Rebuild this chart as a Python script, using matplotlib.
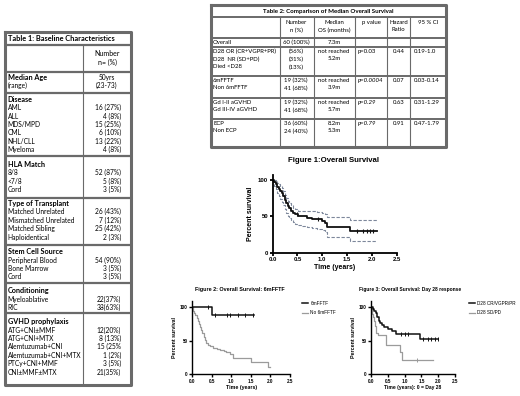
import numpy as np
import matplotlib
matplotlib.use('Agg')
import matplotlib.pyplot as plt

W, H = 520, 396

# ---------------- Table 1 data ----------------
t1_title = "Table 1: Baseline Characteristics"
t1_header = ["Number", "n= (%)"]
t1_sec_titles = ["Median Age", "Disease", "HLA Match", "Type of Transplant",
                 "Stem Cell Source", "Conditioning", "GVHD prophylaxis"]
t1_sec_items = [["(range)"],
                ["AML", "ALL", "MDS/MPD", "CML", "NHL/CLL", "Myeloma"],
                ["8/8", "<7/8", "Cord"],
                ["Matched Unrelated", "Mismatched Unrelated", "Matched Sibling", "Haploidentical"],
                ["Peripheral Blood", "Bone Marrow", "Cord"],
                ["Myeloablative", "RIC"],
                ["ATG+CNI\u00b1MMF", "ATG+CNI+MTX", "Alemtuzumab+CNI", "Alemtuzumab+CNI+MTX",
                 "PTCy+CNI+MMF", "CNI\u00b1MMF\u00b1MTX"]]
t1_sec_values = [["50yrs", "(23-73)"],
                 ["16 (27%)", "4 (8%)", "15 (25%)", "6 (10%)", "13 (22%)", "4 (8%)"],
                 ["52 (87%)", "5 (8%)", "3 (5%)"],
                 ["26 (43%)", "7 (12%)", "25 (42%)", "2 (3%)"],
                 ["54 (90%)", "3 (5%)", "3 (5%)"],
                 ["22(37%)", "38(63%)"],
                 ["12(20%)", "8 (13%)", "15 (25%", "1 (2%)", "3 (5%)", "21(35%)"]]

# ---------------- Table 2 data ----------------
t2_title = "Table 2: Comparison of Median Overall Survival"
t2_header = ["", "Number\nn (%)", "Median\nOS (months)", "p value", "Hazard\nRatio", "95 % CI"]
t2_rows = [
    ["Overall", "60 (100%)", "7.3m", "", "", ""],
    ["D28 OR (CR+VGPR+PR)\nD28  NR (SD+PD)\nDied <D28", "(56%)\n(31%)\n(13%)",
     "not reached\n5.2m", "p=0.03", "0.44", "0.19-1.0"],
    ["6mFFTF\nNon 6mFFTF", "19 (32%)\n41 (68%)", "not reached\n3.9m", "p=0.0004", "0.07", "0.03-0.14"],
    ["Gd I-II aGVHD\nGd III-IV aGVHD", "19 (32%)\n41 (68%)", "not reached\n5.7m", "p=0.29", "0.63", "0.31-1.29"],
    ["ECP\nNon ECP", "36 (60%)\n24 (40%)", "8.2m\n5.3m", "p=0.79", "0.91", "0.47-1.79"],
]

# ---------------- Figure 1: overall survival ----------------
f1_title = "Figure 1:Overall Survival"
os_t = [0, 0.03, 0.06, 0.09, 0.12, 0.15, 0.18, 0.21, 0.24, 0.27, 0.30, 0.33, 0.37,
        0.41, 0.46, 0.52, 0.60, 0.70, 0.80, 0.90, 1.00, 1.05, 1.10, 1.57, 2.10]
os_s = [100, 97, 94, 91, 88, 85, 82, 78, 73, 68, 64, 61, 58,
        55, 53, 51, 50, 48, 47, 46, 44, 41, 36, 30, 30]
os_hi = [100, 100, 98, 96, 94, 92, 89, 85, 80, 75, 71, 68, 65,
         62, 60, 58, 58, 58, 57, 56, 54, 53, 49.5, 45, 45]
os_lo = [100, 92, 87, 82, 78, 74, 70, 66, 60, 55, 51, 48, 45,
         42, 40, 38.5, 37, 35, 34, 33, 31, 29, 21, 16.5, 16.5]
os_cens = [0.50, 0.92, 1.70, 1.83, 1.91, 1.97, 2.03]

# ---------------- Figure 2: 6mFFTF ----------------
f2_title = "Figure 2: Overall Survival: 6mFFTF"
f2_labels = ["6mFFTF", "No 6mFFTF"]
ff_t = [0, 0.50, 1.58]
ff_s = [100, 88, 88]
ff_cens = [0.41, 0.58, 0.88, 0.96, 1.18, 1.35, 1.56]
nff_t = [0, 0.02, 0.05, 0.08, 0.11, 0.14, 0.17, 0.20, 0.23, 0.26, 0.29, 0.32, 0.36,
         0.40, 0.46, 0.53, 0.62, 0.70, 0.80, 0.87, 0.96, 1.03, 1.50, 1.94, 2.00]
nff_s = [100, 95, 92, 88, 84, 80, 75, 71, 66, 61, 56, 51, 47,
         44, 42, 40, 38, 36, 35, 34, 31, 24, 18, 11, 11]

# ---------------- Figure 3: Day 28 response ----------------
f3_title = "Figure 3: Overall Survival: Day 28 response"
f3_labels = ["D28 CR/VGPR/PR", "D28 SD/PD"]
cr_t = [0, 0.05, 0.10, 0.15, 0.19, 0.23, 0.27, 0.32, 0.40, 0.50, 0.62, 0.75, 1.46, 2.00]
cr_s = [100, 98, 95, 91, 86, 80, 76, 73, 70, 67, 64, 60, 52, 52]
cr_cens = [0.90, 1.00, 1.10, 1.55, 1.70, 1.80, 1.90, 2.00]
sd_t = [0, 0.02, 0.05, 0.08, 0.12, 0.16, 0.20, 0.46, 0.86, 0.93, 1.85]
sd_s = [100, 90, 85, 80, 72, 62, 58, 44, 34, 22, 22]
sd_cens = [1.36]

xticks = [0.0, 0.5, 1.0, 1.5, 2.0, 2.5]
yticks = [0, 50, 100]

TFONT = ['Lato', 'DejaVu Sans']
PFONT = ['Liberation Sans', 'DejaVu Sans']

fig = plt.figure(figsize=(W / 100, H / 100), dpi=100)
fig.patch.set_facecolor('white')
ov = fig.add_axes([0, 0, 1, 1])
ov.set_xlim(0, W)
ov.set_ylim(H, 0)
ov.axis('off')

BC = '#6a6a6a'

def hline(x0, x1, y, lw=1.0, c=BC):
    ov.plot([x0, x1], [y, y], color=c, lw=lw, solid_capstyle='butt')

def vline(x, y0, y1, lw=1.0, c=BC):
    ov.plot([x, x], [y0, y1], color=c, lw=lw, solid_capstyle='butt')

def box(x0, y0, x1, y1, lw=1.0, c=BC):
    ov.plot([x0, x1, x1, x0, x0], [y0, y0, y1, y1, y0], color=c, lw=lw)

# ---- Table 1 layout ----
T1x0, T1x1, T1xc = 5, 131, 83
T1y = [32, 45, 72, 93, 156, 198, 245, 283, 313, 385]
head_y = [77.3, 99.3, 164.3, 203.5, 251.7, 291.0, 321.7]
LS = 8.4
box(T1x0, T1y[0], T1x1, T1y[-1], lw=2.2)
for y in T1y[1:-1]:
    hline(T1x0, T1x1, y, lw=1.6)
vline(T1xc, T1y[1], T1y[-1], lw=0.8)
ov.text(T1x0 + 3, 38.8, t1_title, fontsize=5.3, fontweight='bold', family=TFONT,
        va='center', ha='left')
ov.text(107, 54, t1_header[0], fontsize=5, family=TFONT, va='center', ha='center')
ov.text(107, 62.5, t1_header[1], fontsize=5, family=TFONT, va='center', ha='center')
for i, (ttl, items, vals) in enumerate(zip(t1_sec_titles, t1_sec_items, t1_sec_values)):
    y = head_y[i]
    ov.text(T1x0 + 2.5, y, ttl, fontsize=5.2, fontweight='bold', family=TFONT,
            va='center', ha='left')
    for k, it in enumerate(items):
        ov.text(T1x0 + 2.5, y + LS * (k + 1), it, fontsize=4.8, family=TFONT,
                va='center', ha='left')
    if i == 0:
        ov.text(107, y, vals[0], fontsize=4.8, family=TFONT, va='center', ha='center')
        ov.text(107, y + LS, vals[1], fontsize=4.8, family=TFONT, va='center', ha='center')
    else:
        for k, v in enumerate(vals):
            ov.text(121, y + LS * (k + 1), v, fontsize=4.8, family=TFONT,
                    va='center', ha='right')

# ---- Table 2 layout ----
T2x = [211, 280, 314, 355, 387, 410, 446]
T2y = [5, 17, 38, 47, 76, 98, 119, 147]
box(T2x[0], T2y[0], T2x[-1], T2y[-1], lw=2.2)
for y in T2y[1:-1]:
    hline(T2x[0], T2x[-1], y, lw=1.4)
for x in T2x[1:-1]:
    vline(x, T2y[1], T2y[-1], lw=0.8)
ov.text((T2x[0] + T2x[-1]) / 2, 11, t2_title, fontsize=4.4, fontweight='bold',
        family=TFONT, va='center', ha='center')
fs2 = 4.3
col_ha = ['left', 'center', 'center', 'left', 'center', 'left']
col_x = [T2x[0] + 2, 296, 334, 358, 398.5, 414]
for j, h in enumerate(t2_header):
    if not h:
        continue
    hx = col_x[j] if col_ha[j] == 'center' else (T2x[j] + T2x[j + 1]) / 2
    ov.text(hx, 20, h, fontsize=fs2, family=TFONT, va='top', ha='center',
            linespacing=1.55, style='normal')
for r, row in enumerate(t2_rows):
    ytop = T2y[2 + r] + 2.0
    for j, cell in enumerate(row):
        if not cell:
            continue
        txt = cell
        if j == 3:
            ov.text(col_x[j], ytop, txt, fontsize=fs2, family=TFONT, va='top',
                    ha=col_ha[j], linespacing=1.55, style='italic' if r > 1 else 'normal')
        else:
            ov.text(col_x[j], ytop, txt, fontsize=fs2, family=TFONT, va='top',
                    ha=col_ha[j], linespacing=1.55)

# ---- plotting helpers ----
def px_axes(x0, x1, ytop, ybot):
    return fig.add_axes([x0 / W, 1 - ybot / H, (x1 - x0) / W, (ybot - ytop) / H])

def prism(ax, lw, fs, ytop):
    for s in ['top', 'right']:
        ax.spines[s].set_visible(False)
    for s in ['left', 'bottom']:
        ax.spines[s].set_linewidth(lw)
    ax.set_xlim(0, 2.5)
    ax.set_ylim(0, ytop)
    ax.set_xticks(xticks)
    ax.set_xticklabels([f"{v:.1f}" for v in xticks])
    ax.set_yticks(yticks)
    ax.tick_params(direction='out', length=2.2, width=lw, labelsize=fs, pad=1)
    for lab in ax.get_xticklabels() + ax.get_yticklabels():
        lab.set_fontweight('bold')
        lab.set_family(PFONT)
    ax.patch.set_alpha(0)

def step_val(t, s, tc):
    idx = np.searchsorted(np.asarray(t), np.asarray(tc), side='right') - 1
    return np.asarray(s)[idx]

# ---- Figure 1 ----
ax1 = px_axes(272.7, 396.5, 174.9, 252.7)
prism(ax1, 1.3, 4.3, 107)
ax1.step(os_t, os_hi, where='post', color='#7d879b', lw=0.8, ls=(0, (3, 1.5)))
ax1.step(os_t, os_lo, where='post', color='#7d879b', lw=0.8, ls=(0, (3, 1.5)))
ax1.step(os_t, os_s, where='post', color='#111111', lw=1.3)
ax1.plot(os_cens, step_val(os_t, os_s, os_cens), ls='none', marker='|', ms=2.5,
         mew=0.8, color='#111111')
ax1.set_ylabel("Percent survival", fontsize=5, fontweight='bold', family=PFONT, labelpad=3)
ax1.set_xlabel("Time (years)", fontsize=5, fontweight='bold', family=PFONT, labelpad=1.5)
fig.text(334 / W, 1 - 161 / H, f1_title, fontsize=5.6, fontweight='bold', family=PFONT,
         ha='center', va='center')

# ---- Figure 2 ----
ax2 = px_axes(192.3, 290, 300.6, 374.3)
prism(ax2, 1.0, 3.3, 110)
l2b, = ax2.step(nff_t, nff_s, where='post', color='#9b9b9b', lw=0.9, label=f2_labels[1])
l2a, = ax2.step(ff_t, ff_s, where='post', color='#111111', lw=1.1, label=f2_labels[0])
ax2.plot(ff_cens, step_val(ff_t, ff_s, ff_cens), ls='none', marker='|', ms=2.2,
         mew=0.7, color='#111111')
ax2.set_ylabel("Percent survival", fontsize=3.8, fontweight='bold', family=PFONT, labelpad=2)
ax2.set_xlabel("Time (years)", fontsize=3.8, fontweight='bold', family=PFONT, labelpad=1)
fig.text(240 / W, 1 - 290 / H, f2_title, fontsize=3.9, fontweight='bold', family=PFONT,
         ha='center', va='center')
ax2.legend([l2a, l2b], f2_labels, loc='upper left', bbox_to_anchor=(302 / W, 1 - 301 / H),
           bbox_transform=fig.transFigure, frameon=False, prop={'family': PFONT, 'size': 3.4},
           handlelength=1.2, handletextpad=0.6, labelspacing=0.9, borderaxespad=0, borderpad=0)

# ---- Figure 3 ----
ax3 = px_axes(371, 455, 300.6, 374.3)
prism(ax3, 1.0, 3.3, 110)
l3b, = ax3.step(sd_t, sd_s, where='post', color='#9b9b9b', lw=0.9, label=f3_labels[1])
l3a, = ax3.step(cr_t, cr_s, where='post', color='#111111', lw=1.1, label=f3_labels[0])
ax3.plot(cr_cens, step_val(cr_t, cr_s, cr_cens), ls='none', marker='|', ms=2.2,
         mew=0.7, color='#111111')
ax3.plot(sd_cens, step_val(sd_t, sd_s, sd_cens), ls='none', marker='|', ms=2.2,
         mew=0.7, color='#9b9b9b')
ax3.set_ylabel("Percent survival", fontsize=3.8, fontweight='bold', family=PFONT, labelpad=2)
ax3.set_xlabel("Time (years): 0 = Day 28", fontsize=3.6, fontweight='bold', family=PFONT,
               labelpad=1)
fig.text(410 / W, 1 - 290 / H, f3_title, fontsize=3.5, fontweight='bold', family=PFONT,
         ha='center', va='center')
ax3.legend([l3a, l3b], f3_labels, loc='upper left', bbox_to_anchor=(469 / W, 1 - 301 / H),
           bbox_transform=fig.transFigure, frameon=False, prop={'family': PFONT, 'size': 3.3},
           handlelength=1.2, handletextpad=0.6, labelspacing=0.9, borderaxespad=0, borderpad=0)

fig.savefig('out.png', dpi=100, facecolor='white')
